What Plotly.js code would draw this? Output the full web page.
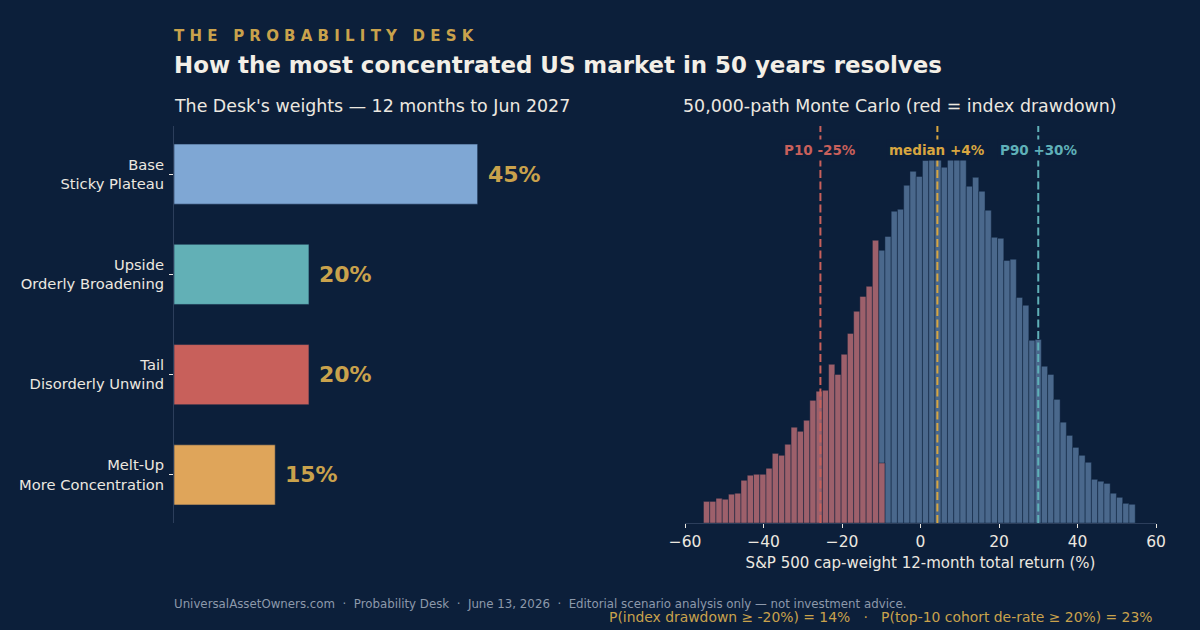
<!DOCTYPE html>
<html><head><meta charset="utf-8">
<script src="https://cdn.plot.ly/plotly-3.0.1.min.js"></script>
<style>html,body{margin:0;padding:0;background:#0c1f3a;}#chart{width:1200px;height:630px;}</style>
</head><body><div id="chart"></div>
<script>
// ---- Left panel data ----
const scenarios = ["Base<br>Sticky Plateau", "Upside<br>Orderly Broadening", "Tail<br>Disorderly Unwind", "Melt-Up<br>More Concentration"];
const weights = [45, 20, 20, 15];
const scenarioColors = ["#7fa7d4", "#62b0b6", "#c8605b", "#dfa55a"];

// ---- Right panel data (histogram of 50,000 paths) ----
const binCenters = [-54.50,-52.91,-51.31,-49.72,-48.13,-46.53,-44.94,-43.34,-41.75,-40.15,
  -38.56,-36.97,-35.37,-33.78,-32.18,-30.59,-28.99,-27.40,-25.81,-24.21,
  -22.62,-21.02,-19.43,-17.83,-16.24,-14.65,-13.05,-11.46,-9.86,-8.27,
  -6.67,-5.08,-3.49,-1.89,-0.30,1.30,2.89,4.49,6.08,7.67,
  9.27,10.86,12.46,14.05,15.65,17.24,18.83,20.43,22.02,23.62,
  25.21,26.81,28.40,29.99,31.59,33.18,34.78,36.37,37.97,39.56,
  41.15,42.75,44.34,45.94,47.53,49.13,50.72,52.32,53.91];
const binWidth = 1.594;
// drawdown paths (bins 0..28)
const redCounts = [90,90,103,99,120,124,178,199,203,203,
  228,290,282,328,399,382,428,511,549,553,
  661,619,703,790,882,944,986,1178,250];
// remaining paths (bins 28..68)
const blueCounts = [1136,1194,1299,1307,1407,1465,1444,1511,1515,1515,
  1482,1515,1515,1515,1403,1440,1382,1303,1190,1186,
  1094,1099,940,907,761,765,653,619,515,420,
  365,315,282,253,182,174,165,124,107,82,78];
const markers = [
  {name: "P10 -25%", value: -25.5, color: "#c8605b"},
  {name: "median +4%", value: 4.3, color: "#d8a640"},
  {name: "P90 +30%", value: 30.0, color: "#5fb0b8"}
];

const BG = "#0c1f3a";
const TXT = "#ece8e0";
const GOLD = "#c9a24c";
const FONT = "DejaVu Sans, Verdana, sans-serif";

const traces = [
  {type: "bar", orientation: "h", x: weights, y: scenarios, xaxis: "x", yaxis: "y",
   width: 0.6, marker: {color: scenarioColors, line: {color: "rgba(20,40,70,0.55)", width: 1}},
   hoverinfo: "skip", showlegend: false},
  {type: "bar", x: binCenters.slice(28), y: blueCounts, xaxis: "x2", yaxis: "y2",
   width: binWidth, marker: {color: "#4a688c", line: {color: "rgba(12,31,58,0.45)", width: 1}},
   hoverinfo: "skip", showlegend: false},
  {type: "bar", x: binCenters.slice(0, 29), y: redCounts, xaxis: "x2", yaxis: "y2",
   width: binWidth, marker: {color: "#9d606b", line: {color: "rgba(12,31,58,0.45)", width: 1}},
   hoverinfo: "skip", showlegend: false}
];

const yBot = 1 - 523/630, yTop = 1 - 126/630;
const annotations = [
  {text: "T H E   P R O B A B I L I T Y   D E S K", xref: "paper", yref: "paper", x: 172/1200, y: 1 - 36/630,
   xanchor: "left", yanchor: "middle", showarrow: false, font: {family: FONT, size: 15, color: GOLD, weight: 700}},
  {text: "How the most concentrated US market in 50 years resolves", xref: "paper", yref: "paper", x: 172/1200, y: 1 - 65/630,
   xanchor: "left", yanchor: "middle", showarrow: false, font: {family: FONT, size: 22.9, color: "#f3efe7", weight: 700}},
  {text: "The Desk's weights \u2014 12 months to Jun 2027", xref: "paper", yref: "paper", x: 172/1200, y: 1 - 106/630,
   xanchor: "left", yanchor: "middle", showarrow: false, font: {family: FONT, size: 17.4, color: TXT}},
  {text: "50,000-path Monte Carlo (red = index drawdown)", xref: "paper", yref: "paper", x: 681/1200, y: 1 - 106/630,
   xanchor: "left", yanchor: "middle", showarrow: false, font: {family: FONT, size: 17.4, color: TXT}},
  {text: "UniversalAssetOwners.com  \u00b7  Probability Desk  \u00b7  June 13, 2026  \u00b7  Editorial scenario analysis only \u2014 not investment advice.",
   xref: "paper", yref: "paper", x: 172/1200, y: 1 - 604/630, xanchor: "left", yanchor: "middle", showarrow: false,
   font: {family: FONT, size: 11.8, color: "#8d99ab"}},
  {text: "P(index drawdown \u2265 -20%) = 14%   \u00b7   P(top-10 cohort de-rate \u2265 20%) = 23%",
   xref: "paper", yref: "paper", x: 1155/1200, y: 1 - 617/630, xanchor: "right", yanchor: "middle", showarrow: false,
   font: {family: FONT, size: 13.9, color: GOLD}}
];
weights.forEach((w, i) => annotations.push({
  text: w + "%", x: w, y: scenarios[i], xref: "x", yref: "y", xanchor: "left", yanchor: "middle",
  xshift: 8, showarrow: false, font: {family: FONT, size: 22, color: GOLD, weight: 700}
}));
const shapes = [];
markers.forEach(m => {
  shapes.push({type: "line", xref: "x2", yref: "y2 domain", x0: m.value, x1: m.value, y0: 0, y1: 1,
    line: {color: m.color, width: 2, dash: "8px,3.5px"}, layer: "above"});
  annotations.push({text: m.name, x: m.value, y: 1 - 24/397, xref: "x2", yref: "y2 domain",
    xanchor: "center", yanchor: "middle", showarrow: false, bgcolor: BG, borderpad: 2,
    font: {family: FONT, size: 13.5, color: m.color, weight: 700}});
});

const layout = {
  width: 1200, height: 630, margin: {l: 0, r: 0, t: 0, b: 0},
  paper_bgcolor: BG, plot_bgcolor: BG, barmode: "overlay", bargap: 0,
  font: {family: FONT, color: TXT},
  xaxis: {domain: [174/1200, 564/1200], range: [0, 57.8], visible: false, fixedrange: true},
  yaxis: {domain: [yBot, yTop], type: "category", range: [3.48, -0.48], showline: true, linecolor: "#2c3e5b", linewidth: 1,
    ticks: "outside", ticklen: 4, tickcolor: TXT, tickwidth: 1, ticklabelstandoff: 2,
    tickfont: {family: FONT, size: 14.7, color: TXT}, showgrid: false, zeroline: false, anchor: "x"},
  xaxis2: {domain: [685/1200, 1156/1200], range: [-60, 60], anchor: "y2", showline: true, linecolor: "#2c3e5b", linewidth: 1,
    ticks: "outside", ticklen: 4, tickcolor: TXT, tickvals: [-60, -40, -20, 0, 20, 40, 60],
    tickfont: {family: FONT, size: 15.5, color: TXT}, showgrid: false, zeroline: false,
    title: {text: "S&P 500 cap-weight 12-month total return (%)", font: {family: FONT, size: 15, color: TXT}, standoff: 7}},
  yaxis2: {domain: [yBot, yTop], range: [0, 1654], anchor: "x2", showline: false, showticklabels: false,
    ticks: "", showgrid: false, zeroline: false},
  annotations: annotations, shapes: shapes
};
Plotly.newPlot("chart", traces, layout, {displayModeBar: false, staticPlot: true});
</script></body></html>
